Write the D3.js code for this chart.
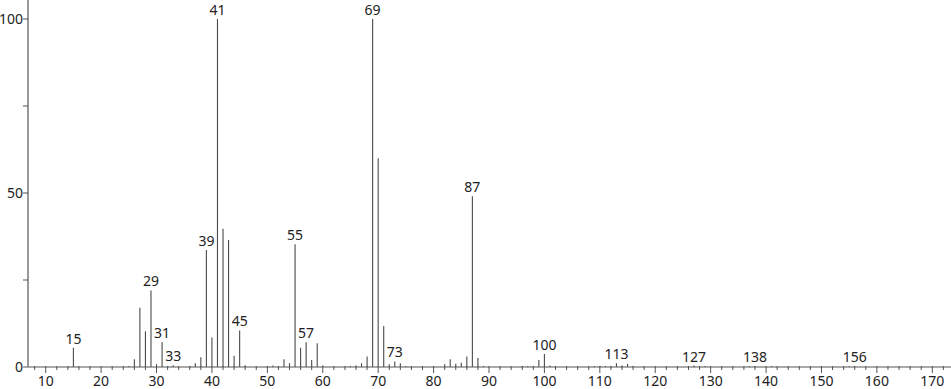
<!DOCTYPE html>
<html>
<head>
<meta charset="utf-8">
<script src="https://cdn.jsdelivr.net/npm/d3@7"></script>
<style>
  body { margin: 0; background: #fff; }
  svg { display: block; }
  text { font-family: "Noto Sans", "DejaVu Sans", sans-serif; fill: #222; }
</style>
</head>
<body>
<div id="chart"></div>
<script>
// Spectrum peaks: m/z and relative intensity (%).
var mz = [15, 25, 26, 27, 28, 29, 30, 31, 32, 33, 36, 37, 38, 39, 40, 41, 42, 43, 44, 45, 46,
          50, 51, 52, 53, 54, 55, 56, 57, 58, 59, 60, 65, 66, 67, 68, 69, 70, 71, 72, 73, 74, 75,
          82, 83, 84, 85, 86, 87, 88, 89, 96, 97, 98, 99, 100, 101, 102,
          109, 110, 111, 112, 113, 114, 115, 116, 126, 127, 128, 129, 137, 138, 141, 155, 156];
var intensity = [5.5, 0.3, 2.2, 17, 10.3, 22, 0.8, 7.2, 0.3, 0.5, 0.3, 1.1, 2.8, 33.6, 8.5, 100, 39.7, 36.5, 3.2, 10.5, 0.5,
          0.3, 0.4, 0.3, 2.2, 1.1, 35.3, 5.5, 7.1, 2, 6.8, 0.4, 0.3, 0.4, 1.1, 3, 100, 60, 11.8, 0.8, 1.6, 1.1, 0.3,
          0.8, 2.2, 0.9, 1.2, 3, 49.1, 2.6, 0.3, 0.3, 0.3, 0.3, 2, 3.7, 0.4, 0.3,
          0.3, 0.3, 0.3, 0.3, 1.1, 0.4, 0.9, 0.3, 0.3, 0.4, 0.3, 0.3, 0.2, 0.3, 0.3, 0.2, 0.2];
// Peaks that carry a label.
var labelled = [15, 29, 31, 33, 39, 41, 45, 55, 57, 69, 73, 87, 100, 113, 127, 138, 156];
// Axis ticks.
var xTicks = [10, 20, 30, 40, 50, 60, 70, 80, 90, 100, 110, 120, 130, 140, 150, 160, 170];
var yTicks = [0, 50, 100];

var width = 951, height = 389;
var x0 = 28, yBase = 367;

var svg = d3.select("#chart").append("svg")
    .attr("width", width)
    .attr("height", height);

var x = d3.scaleLinear().domain([10, 170]).range([45.7, 932.3]);
var y = d3.scaleLinear().domain([0, 100]).range([yBase, 19]);

var peaks = mz.map(function(m, i) { return { mz: m, v: intensity[i] }; });

// Bars
svg.append("g").selectAll("line")
    .data(peaks)
  .enter().append("line")
    .attr("x1", function(d) { return x(d.mz); })
    .attr("x2", function(d) { return x(d.mz); })
    .attr("y1", yBase)
    .attr("y2", function(d) { return y(d.v); })
    .attr("stroke", "#4a4a4a")
    .attr("stroke-width", 1.1);

// Peak labels
svg.append("g").selectAll("text")
    .data(peaks.filter(function(d) { return labelled.indexOf(d.mz) >= 0; }))
  .enter().append("text")
    .attr("x", function(d) { return x(d.mz); })
    .attr("y", function(d) { return Math.min(y(d.v) - 4, yBase - 5); })
    .attr("text-anchor", "middle")
    .style("font-size", "14px")
    .text(function(d) { return d.mz; });

// x axis: minor ticks every 2, labelled ticks every 10
var minor = d3.range(8, 173, 2);
var xg = svg.append("g");
xg.append("line")
    .attr("x1", x0).attr("x2", width)
    .attr("y1", yBase).attr("y2", yBase)
    .attr("stroke", "#555").attr("stroke-width", 1);
xg.selectAll("line.minor")
    .data(minor)
  .enter().append("line")
    .attr("class", "minor")
    .attr("x1", function(d) { return x(d); })
    .attr("x2", function(d) { return x(d); })
    .attr("y1", yBase - 1)
    .attr("y2", function(d) { return d % 10 === 0 ? yBase + 6 : yBase + 3; })
    .attr("stroke", "#555");
xg.selectAll("text")
    .data(xTicks)
  .enter().append("text")
    .attr("x", function(d) { return x(d); })
    .attr("y", 386)
    .attr("text-anchor", "middle")
    .style("font-size", "14px")
    .text(function(d) { return d; });

// y axis
var yg = svg.append("g");
yg.append("line")
    .attr("x1", x0).attr("x2", x0)
    .attr("y1", 0).attr("y2", yBase)
    .attr("stroke", "#999").attr("stroke-width", 2);
yg.selectAll("line.t")
    .data([0, 25, 50, 75, 100])
  .enter().append("line")
    .attr("class", "t")
    .attr("x1", x0 - 5).attr("x2", x0)
    .attr("y1", function(d) { return y(d); })
    .attr("y2", function(d) { return y(d); })
    .attr("stroke", "#555");
yg.selectAll("text")
    .data(yTicks)
  .enter().append("text")
    .attr("x", x0 - 5)
    .attr("y", function(d) { return y(d) + 5; })
    .attr("text-anchor", "end")
    .style("font-size", "14px")
    .text(function(d) { return d; });
</script>
</body>
</html>
